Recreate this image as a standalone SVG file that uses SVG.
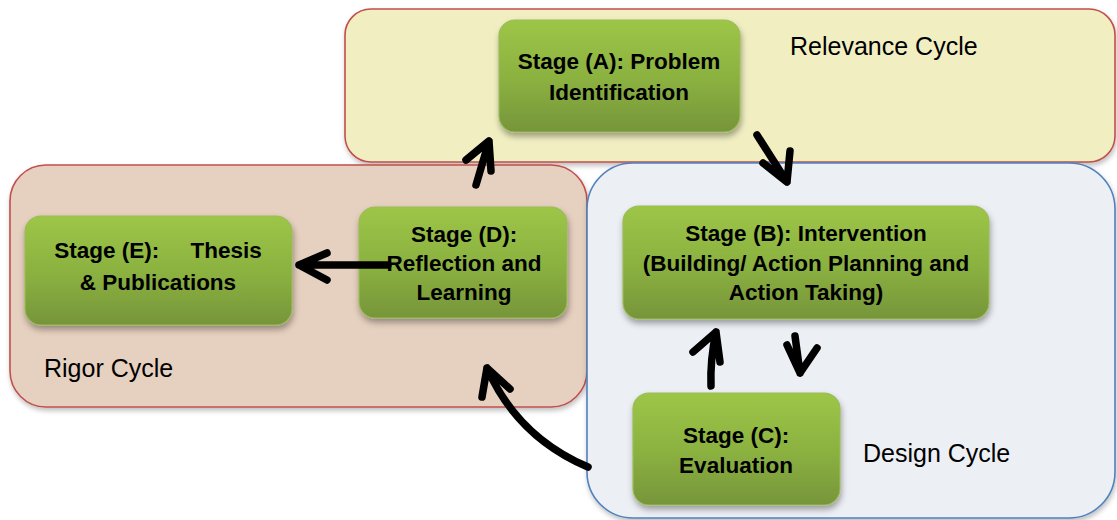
<svg xmlns="http://www.w3.org/2000/svg" width="1117" height="520" viewBox="0 0 1117 520">
  <defs>
    <linearGradient id="greenFill" x1="0" y1="0" x2="0" y2="1">
      <stop offset="0" stop-color="#9DC647"/>
      <stop offset="0.55" stop-color="#8AB040"/>
      <stop offset="1" stop-color="#76953A"/>
    </linearGradient>
    <filter id="nodeShadow" x="-10%" y="-10%" width="125%" height="135%">
      <feDropShadow dx="1" dy="4" stdDeviation="3" flood-color="#000" flood-opacity="0.35"/>
    </filter>
    <filter id="boxShadow" x="-5%" y="-5%" width="112%" height="115%">
      <feDropShadow dx="1" dy="3" stdDeviation="2.5" flood-color="#000" flood-opacity="0.25"/>
    </filter>
    <style>
      .cycle { stroke-width: 1.6; filter: url(#boxShadow); }
      .relevance { fill: #F1EFC2; stroke: #C0504D; }
      .rigor { fill: #E6D0BF; stroke: #C0504D; }
      .design { fill: #ECEFF4; stroke: #4F81BD; }
      .stage { fill: url(#greenFill); stroke: #9BBB59; stroke-width: 1.2; filter: url(#nodeShadow); }
      .stageText { font-family: "Liberation Sans", Arial, sans-serif; font-weight: bold; font-size: 22.5px; fill: #000; text-anchor: middle; white-space: pre; }
      .cycleLabel { font-family: "Liberation Sans", Arial, sans-serif; font-size: 25px; fill: #000; }
      .arrow { fill: none; stroke: #000; stroke-width: 7.5; stroke-linecap: round; stroke-linejoin: round; }
    </style>
  </defs>

  <!-- cycle containers -->
  <g id="relevance-cycle">
    <rect class="cycle relevance" x="345" y="9" width="770" height="153" rx="26"/>
    <text class="cycleLabel" x="790" y="55">Relevance Cycle</text>
  </g>
  <g id="rigor-cycle">
    <rect class="cycle rigor" x="10" y="165" width="577" height="242" rx="36"/>
    <text class="cycleLabel" x="44" y="377">Rigor Cycle</text>
  </g>
  <g id="design-cycle">
    <rect class="cycle design" x="587" y="163" width="528" height="355" rx="46"/>
    <text class="cycleLabel" x="863" y="462">Design Cycle</text>
  </g>

  <!-- stages -->
  <g id="stage-a">
    <rect class="stage" x="499" y="20" width="241" height="112" rx="16"/>
    <text class="stageText" x="619" y="69">Stage (A): Problem</text>
    <text class="stageText" x="619" y="100">Identification</text>
  </g>
  <g id="stage-b">
    <rect class="stage" x="623" y="206" width="366" height="113" rx="16"/>
    <text class="stageText" x="806" y="241">Stage (B): Intervention</text>
    <text class="stageText" x="806" y="271">(Building/ Action Planning and</text>
    <text class="stageText" x="806" y="300">Action Taking)</text>
  </g>
  <g id="stage-c">
    <rect class="stage" x="633" y="393" width="207" height="112" rx="16"/>
    <text class="stageText" x="736" y="443">Stage (C):</text>
    <text class="stageText" x="736" y="473">Evaluation</text>
  </g>
  <g id="stage-d">
    <rect class="stage" x="359" y="207" width="208" height="111" rx="16"/>
    <text class="stageText" x="464" y="242">Stage (D):</text>
    <text class="stageText" x="464" y="271">Reflection and</text>
    <text class="stageText" x="464" y="300">Learning</text>
  </g>
  <g id="stage-e">
    <rect class="stage" x="25" y="216" width="267" height="109" rx="16"/>
    <text class="stageText" x="158" y="258">Stage (E):     Thesis</text>
    <text class="stageText" x="158" y="290">&amp; Publications</text>
  </g>

  <!-- connectors -->
  <g id="connectors">
    <!-- D to A -->
    <path class="arrow" d="M476,185 L489,141 M466,160 L489,141 L491,171"/>
    <!-- A to B -->
    <path class="arrow" d="M757,135 L787,182 M763,163 L787,182 L790,151"/>
    <!-- D to E -->
    <path class="arrow" d="M388,265 L299,265 M327,253 L299,265 L327,280"/>
    <!-- C to B -->
    <path class="arrow" d="M711,386 Q710,360 716,332 M693,352 L716,332 L720,362"/>
    <!-- B to C -->
    <path class="arrow" d="M795,336 L800,373 M787,345 L800,373 L817,348"/>
    <!-- Design cycle back to D -->
    <path class="arrow" d="M588,467 C548,450 510,420 487,368 M482,397 L487,368 L510,389"/>
  </g>
</svg>
